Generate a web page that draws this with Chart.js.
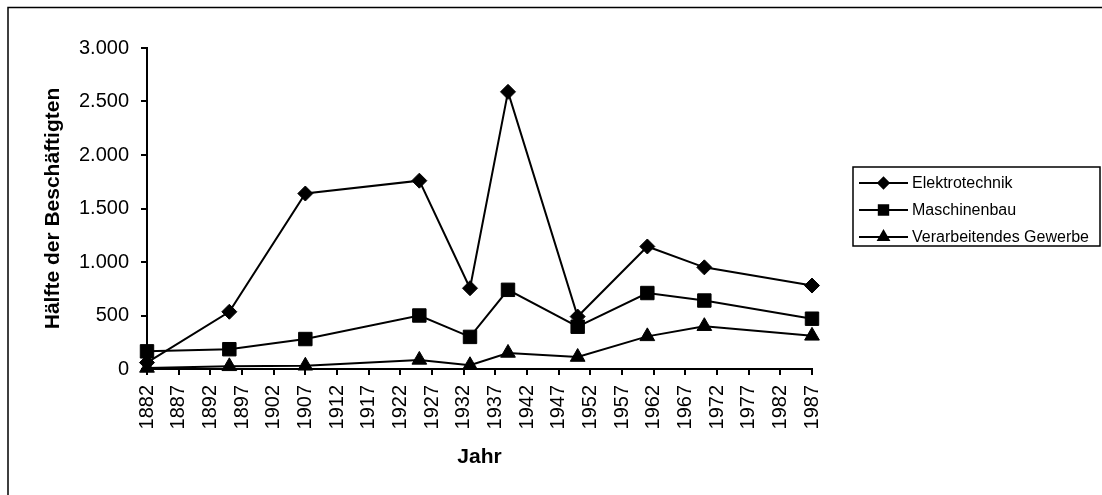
<!DOCTYPE html>
<html>
<head>
<meta charset="utf-8">
<script src="https://cdn.jsdelivr.net/npm/chart.js@4.4.1/dist/chart.umd.min.js"></script>
<style>
  html, body { margin: 0; padding: 0; background: #fff; }
  #wrap { width: 1102px; height: 495px; position: relative; }
</style>
</head>
<body>
<div id="wrap"><canvas id="c" width="1102" height="495"></canvas></div>
<script>
const years = [1882, 1895, 1907, 1925, 1933, 1939, 1950, 1961, 1970, 1987];
const elektrotechnik = [60, 535, 1640, 1760, 755, 2590, 490, 1145, 950, 780];
const maschinenbau = [165, 185, 280, 500, 300, 740, 395, 710, 640, 470];
const verarbeitendes = [10, 25, 30, 85, 35, 150, 112, 305, 400, 310];
const seriesNames = ['Elektrotechnik', 'Maschinenbau', 'Verarbeitendes Gewerbe'];
const xTitle = 'Jahr';
const yTitle = 'Hälfte der Beschäftigten';

const FONT = "'Liberation Sans', Arial, sans-serif";
const fmt = v => String(v).replace(/\B(?=(\d{3})+(?!\d))/g, '.');
const toPts = arr => arr.map((v, i) => ({ x: years[i], y: v }));

const styles = [
  { pointStyle: 'rectRot', pointRadius: 7.5 },
  { pointStyle: 'rect', pointRadius: 9.5 },
  { pointStyle: 'triangle', pointRadius: 8.5 }
];

const datasets = [elektrotechnik, maschinenbau, verarbeitendes].map((arr, i) => ({
  label: seriesNames[i],
  data: toPts(arr),
  borderColor: '#000',
  backgroundColor: '#000',
  borderWidth: 2,
  pointBorderWidth: 1,
  pointBackgroundColor: '#000',
  pointBorderColor: '#000',
  pointStyle: styles[i].pointStyle,
  pointRadius: styles[i].pointRadius,
  tension: 0,
  clip: false
}));

const decor = {
  id: 'decor',
  afterDraw(chart) {
    const ctx = chart.ctx;
    ctx.save();
    // outer frame (cropped at right and bottom)
    ctx.strokeStyle = '#000';
    ctx.lineWidth = 1.5;
    ctx.beginPath();
    ctx.moveTo(8, 500);
    ctx.lineTo(8, 7.5);
    ctx.lineTo(1110, 7.5);
    ctx.stroke();
    // legend box
    const lx = 853, ly = 167, lw = 247, lh = 79;
    ctx.lineWidth = 1.5;
    ctx.strokeRect(lx, ly, lw, lh);
    const rowY = [183, 210, 237];
    chart.data.datasets.forEach((ds, i) => {
      const y = rowY[i];
      ctx.strokeStyle = '#000';
      ctx.lineWidth = 2;
      ctx.beginPath();
      ctx.moveTo(859, y);
      ctx.lineTo(908, y);
      ctx.stroke();
      ctx.fillStyle = '#000';
      Chart.helpers.drawPoint(ctx, {
        pointStyle: ds.pointStyle,
        radius: ds.pointRadius * 0.7,
        rotation: 0,
        borderWidth: 1
      }, 883.5, y);
      ctx.fillStyle = '#000';
      ctx.font = '16px ' + FONT;
      ctx.textBaseline = 'middle';
      ctx.textAlign = 'left';
      ctx.fillText(ds.label, 912, y + 1);
    });
    ctx.restore();
  }
};

new Chart(document.getElementById('c'), {
  type: 'line',
  data: { datasets },
  options: {
    responsive: false,
    animation: false,
    events: [],
    layout: { padding: { left: 37, top: 48, right: 290, bottom: 21 } },
    plugins: { legend: { display: false }, tooltip: { enabled: false } },
    scales: {
      x: {
        type: 'linear',
        min: 1882,
        max: 1987,
        afterFit: s => { s.height = 105; },
        border: { display: true, color: '#000', width: 2 },
        grid: { drawOnChartArea: false, drawTicks: true, tickLength: 6, color: '#000', lineWidth: 2 },
        ticks: {
          stepSize: 5,
          autoSkip: false,
          maxRotation: 90,
          minRotation: 90,
          padding: 10,
          color: '#000',
          font: { family: FONT, size: 20 },
          callback: v => String(v)
        },
        title: {
          display: true,
          text: xTitle,
          color: '#000',
          font: { family: FONT, size: 21, weight: 'bold' },
          padding: { top: 4, bottom: 4 }
        }
      },
      y: {
        min: 0,
        max: 3000,
        afterFit: s => { s.width = 110; },
        border: { display: true, color: '#000', width: 2 },
        grid: { drawOnChartArea: false, drawTicks: true, tickLength: 6, color: '#000', lineWidth: 2 },
        ticks: {
          stepSize: 500,
          padding: 12,
          color: '#000',
          font: { family: FONT, size: 20 },
          callback: v => fmt(v)
        },
        title: {
          display: true,
          text: yTitle,
          color: '#000',
          font: { family: FONT, size: 21, weight: 'bold' },
          padding: { top: 4, bottom: 4 }
        }
      }
    }
  },
  plugins: [decor]
});
</script>
</body>
</html>
